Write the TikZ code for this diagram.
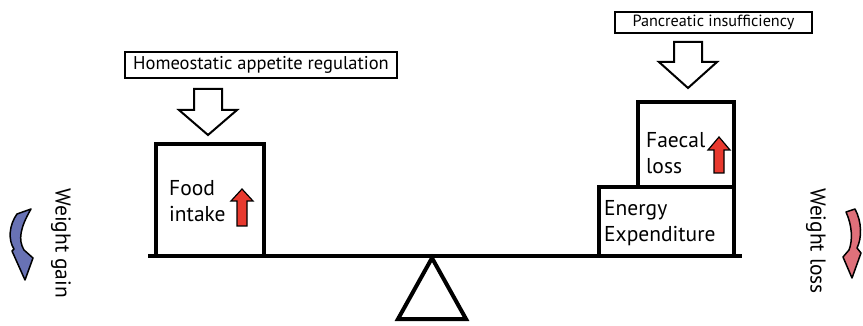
\documentclass[tikz,border=0pt]{standalone}
\usepackage{fontspec}
\setmainfont{PT Sans}

\definecolor{gainblue}{HTML}{6872B4}
\definecolor{lossred}{HTML}{E0707A}
\definecolor{intakered}{HTML}{E8392E}

\tikzset{
  heavybox/.style={draw, line width=4pt, inner sep=0pt},
  tagbox/.style={draw, line width=1.3pt, inner sep=0pt, font=\fontsize{16.2}{19}\selectfont},
  boxtext/.style={align=left, inner sep=0pt, font=\fontsize{21.5}{26}\selectfont},
  sidetext/.style={rotate=-90, inner sep=0pt, font=\fontsize{21.5}{24}\selectfont},
  hollowarrow/.style={draw, fill=white, line width=2pt},
  redarrow/.style={draw, fill=intakered, line width=1.2pt},
  swingarrow/.style={draw, line width=1.5pt, line join=round}
}

\begin{document}
\begin{tikzpicture}[x=1pt, y=-1pt]
    \useasboundingbox (0,0) rectangle (863,326);

    %----------------------
    % CAUSES (top labels)
    %----------------------
    \node[tagbox, font=\fontsize{18.5}{22}\selectfont, minimum width=272, minimum height=26] (homeo) at (261,65) {Homeostatic appetite regulation};
    \node[tagbox, minimum width=197, minimum height=21] (pancreas) at (713.5,22.5) {Pancreatic insufficiency};

    % Hollow arrows pushing down
    \draw[hollowarrow] (194,89) -- (222,89) -- (222,110) -- (237,110) -- (208,135) -- (179,110) -- (194,110) -- cycle;
    \draw[hollowarrow] (674,42) -- (702,42) -- (702,62) -- (717,62) -- (688,88) -- (659,62) -- (674,62) -- cycle;

    %----------------------
    % SEESAW
    %----------------------
    % Beam and pivot
    \draw[line width=4pt] (148,256) -- (742,256);
    \draw[line width=4pt] (432,258) -- (466,319) -- (398,319) -- cycle;

    %----------------------
    % LEFT PAN (intake)
    %----------------------
    \node[heavybox, minimum width=108, minimum height=112] (food) at (210,200) {};
    \node[boxtext, anchor=west] (foodtext) at (169,201) {Food\\intake};
    % red "up" arrow
    \draw[redarrow] (237,226) -- (237,201) -- (231,201) -- (242,189) -- (253,201) -- (247,201) -- (247,226) -- cycle;

    %----------------------
    % RIGHT PAN (losses)
    %----------------------
    \node[heavybox, minimum width=96.5, minimum height=84.5] (faecal) at (685.75,144.75) {};
    \node[heavybox, minimum width=135.5, minimum height=69] (energy) at (666.25,221.5) {};
    \node[boxtext, anchor=west] (faecaltext) at (646,153) {Faecal\\loss};
    \node[boxtext, anchor=west] (energytext) at (604,223) {Energy\\Expenditure};
    \draw[redarrow] (714,173) -- (714,150) -- (708,150) -- (719,137) -- (730,150) -- (724,150) -- (724,173) -- cycle;

    %----------------------
    % TIPPING DIRECTIONS
    %----------------------
    \node[sidetext] (gain) at (61,243) {Weight gain};
    \draw[swingarrow, fill=gainblue] (17,214) .. controls (9,225) and (8,240) .. (14,249) -- (12,251) -- (25,280)
        -- (33,258) -- (24,250) .. controls (18,240) and (20,228) .. (31,209) -- cycle;

    \node[sidetext] (loss) at (816,241) {Weight loss};
    \draw[swingarrow, fill=lossred] (846,212) -- (855,209) .. controls (862,222) and (862,238) .. (857,248) -- (861,253)
        -- (852,278) -- (843,257) -- (849,250) .. controls (853,240) and (852,225) .. (846,212) -- cycle;

\end{tikzpicture}
\end{document}
